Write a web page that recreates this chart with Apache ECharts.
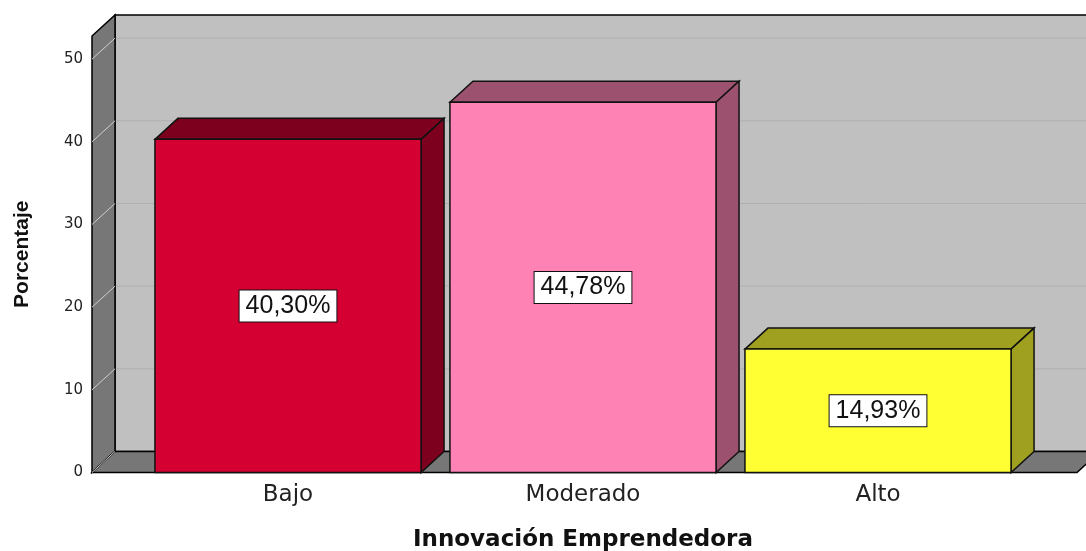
<!DOCTYPE html>
<html>
<head>
<meta charset="utf-8">
<script src="https://cdn.jsdelivr.net/npm/echarts@6/dist/echarts.min.js"></script>
<style>
  html, body { margin: 0; padding: 0; background: #fff; }
  #main { width: 1086px; height: 551px; }
</style>
</head>
<body>
<div id="main"></div>
<script>
// datos del gráfico
const categories = ['Bajo', 'Moderado', 'Alto'];
const percentages = [40.30, 44.78, 14.93];
const yTicks = [0, 10, 20, 30, 40, 50];

// estilo 3D (frente / lados)
const frontColors = ['#d50032', '#ff82b4', '#ffff33'];
const sideColors = ['#7d001e', '#9c526e', '#a0a020'];
const DX = 23, DY = -21;

window.onload = function () {
    let myChart = echarts.init(document.getElementById('main'));

    function fmt(v) {
        return v.toFixed(2).replace('.', ',') + '%';
    }

    // paredes y suelo del gráfico 3D
    function renderWalls(params, api) {
        const cs = params.coordSys;
        const lx = cs.x - 48.5;
        const rx = cs.x + cs.width + 51.5;
        const y0 = api.coord([0, 0])[1];
        const yTop = cs.y;
        const children = [];
        // pared de fondo
        children.push({
            type: 'polygon',
            shape: { points: [[lx + DX, yTop + DY], [rx + DX + 200, yTop + DY], [rx + DX + 200, y0 + DY], [lx + DX, y0 + DY]] },
            style: { fill: '#c0c0c0', stroke: '#000', lineWidth: 1.5 }
        });
        // líneas de cuadrícula
        yTicks.forEach(function (v) {
            const y = api.coord([0, v])[1];
            if (v > 0) {
                children.push({
                    type: 'line',
                    shape: { x1: lx + DX, y1: y + DY, x2: rx + DX + 200, y2: y + DY },
                    style: { stroke: '#b0b0b0', lineWidth: 1 }
                });
            }
        });
        // pared izquierda
        children.push({
            type: 'polygon',
            shape: { points: [[lx, yTop], [lx + DX, yTop + DY], [lx + DX, y0 + DY], [lx, y0]] },
            style: { fill: '#777777', stroke: '#000', lineWidth: 1.5 }
        });
        // suelo
        children.push({
            type: 'polygon',
            shape: { points: [[lx, y0], [lx + DX, y0 + DY], [rx + DX, y0 + DY], [rx, y0]] },
            style: { fill: '#777777', stroke: '#000', lineWidth: 1.5 }
        });
        yTicks.forEach(function (v) {
            const y = api.coord([0, v])[1];
            children.push({
                type: 'line',
                shape: { x1: lx, y1: y, x2: lx + DX, y2: y + DY },
                style: { stroke: '#cfcfcf', lineWidth: 1 }
            });
        });
        return { type: 'group', children: children };
    }

    // barras 3D
    function renderBar(params, api) {
        const idx = api.value(0);
        const val = api.value(1);
        const p0 = api.coord([idx, 0]);
        const p1 = api.coord([idx, val]);
        const w = api.size([1, 0])[0] * 0.902;
        const x0 = p0[0] - w / 2, x1 = x0 + w;
        const yB = p0[1], yT = p1[1];
        const i = params.dataIndex;
        return {
            type: 'group',
            children: [
                {
                    type: 'polygon',
                    shape: { points: [[x0, yT], [x0 + DX, yT + DY], [x1 + DX, yT + DY], [x1, yT]] },
                    style: { fill: sideColors[i], stroke: '#111', lineWidth: 1.5 }
                },
                {
                    type: 'polygon',
                    shape: { points: [[x1, yT], [x1 + DX, yT + DY], [x1 + DX, yB + DY], [x1, yB]] },
                    style: { fill: sideColors[i], stroke: '#111', lineWidth: 1.5 }
                },
                {
                    type: 'rect',
                    shape: { x: x0, y: yT, width: w, height: yB - yT },
                    style: { fill: frontColors[i], stroke: '#111', lineWidth: 1.5 }
                },
                {
                    type: 'text',
                    style: {
                        text: fmt(val),
                        x: (x0 + x1) / 2,
                        y: (yT + yB) / 2,
                        align: 'center',
                        verticalAlign: 'middle',
                        fill: '#111',
                        font: '25px "Liberation Sans", Arial, sans-serif',
                        backgroundColor: '#fff',
                        borderColor: '#111',
                        borderWidth: 1,
                        padding: [4, 6, 2, 6]
                    }
                }
            ]
        };
    }

    let option = {
        animation: false,
        backgroundColor: '#fff',
        grid: { left: 140.5, right: 60.5, top: 36, bottom: 78.5, outerBoundsMode: 'none' },
        xAxis: {
            type: 'category',
            data: categories,
            axisLine: { show: false },
            axisTick: { show: false },
            axisLabel: {
                margin: 11,
                color: '#222',
                fontFamily: 'DejaVu Sans',
                fontSize: 23
            },
            name: 'Innovación Emprendedora',
            nameLocation: 'middle',
            nameGap: 56,
            nameTextStyle: {
                color: '#111',
                fontFamily: 'DejaVu Sans',
                fontWeight: 'bold',
                fontSize: 23
            }
        },
        yAxis: {
            type: 'value',
            min: 0,
            max: 52.8,
            interval: 10,
            offset: 48.5,
            axisLine: { show: false },
            axisTick: { show: false },
            splitLine: { show: false },
            axisLabel: {
                margin: 9,
                showMaxLabel: false,
                color: '#222',
                fontFamily: 'DejaVu Sans',
                fontSize: 15
            },
            name: 'Porcentaje',
            nameLocation: 'middle',
            nameRotate: 90,
            nameGap: 59,
            nameTextStyle: {
                color: '#111',
                fontFamily: 'Liberation Sans',
                fontWeight: 'bold',
                fontSize: 21
            }
        },
        series: [
            {
                type: 'custom',
                z: 1,
                clip: false,
                silent: true,
                renderItem: renderWalls,
                data: [[0, 0]]
            },
            {
                type: 'custom',
                z: 2,
                clip: false,
                renderItem: renderBar,
                data: percentages.map(function (v, i) { return [i, v]; })
            }
        ]
    };
    myChart.setOption(option);
}
</script>
</body>
</html>
